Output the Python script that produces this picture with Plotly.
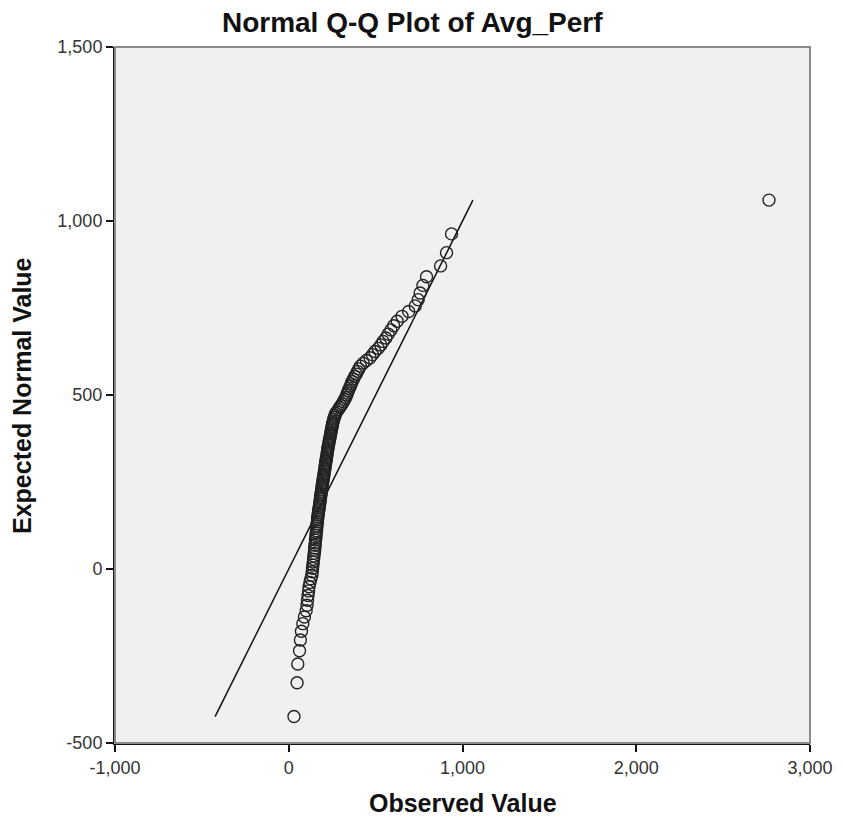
import plotly.graph_objects as go

# Observed Avg_Perf values (sorted) and their expected normal values
observed = [
    30, 48, 52, 62, 67, 73, 81, 90, 100, 105, 108, 111, 114, 117, 122, 127,
    133, 135, 137, 139, 141, 143, 145, 147, 149, 150, 151, 153, 154, 156,
    157, 158, 160, 161, 162, 163, 165, 166, 167, 169, 170, 172, 174, 175,
    177, 179, 180, 182, 183, 185, 186, 188, 190, 191, 192, 194, 195, 197,
    199, 200, 202, 203, 205, 207, 208, 210, 211, 213, 214, 216, 217, 219,
    221, 222, 224, 225, 227, 229, 231, 233, 235, 237, 239, 241, 243, 245,
    247, 249, 251, 253, 256, 259, 263, 266, 270, 277, 285, 293, 300, 308,
    315, 322, 328, 333, 338, 343, 348, 355, 360, 365, 372, 380, 388, 396,
    403, 412, 428, 447, 468, 482, 496, 515, 530, 543, 559, 572, 588, 604,
    624, 652, 690, 728, 745, 756, 772, 793, 874, 908, 937, 2764,
]
expected = [
    -424, -327, -273, -235, -204, -179, -157, -138, -120, -104, -90, -76,
    -63, -51, -39, -28, -18, -8, 2, 11, 20, 28, 37, 45, 53, 60, 68, 75, 83,
    90, 97, 104, 110, 117, 124, 130, 136, 143, 149, 155, 161, 167, 172, 178,
    184, 190, 195, 201, 206, 212, 217, 222, 228, 233, 238, 243, 248, 254,
    259, 264, 269, 274, 280, 285, 290, 295, 300, 305, 310, 315, 320, 325,
    331, 336, 341, 346, 351, 357, 362, 367, 372, 377, 383, 388, 393, 398,
    403, 409, 414, 419, 424, 430, 436, 441, 447, 452, 458, 464, 469, 475,
    481, 487, 493, 500, 506, 512, 519, 526, 532, 539, 546, 553, 560, 568,
    575, 583, 591, 599, 607, 616, 625, 634, 644, 654, 664, 675, 687, 699,
    712, 726, 740, 756, 774, 793, 815, 840, 871, 909, 963, 1060,
]

x_tick_vals = [-1000, 0, 1000, 2000, 3000]
x_tick_text = ["-1,000", "0", "1,000", "2,000", "3,000"]
y_tick_vals = [-500, 0, 500, 1000, 1500]
y_tick_text = ["-500", "0", "500", "1,000", "1,500"]

FONT = "Liberation Sans Narrow, Arial Narrow, Liberation Sans, sans-serif"

# reference line y = x spanning the expected values
line_ends = [min(expected), max(expected)]

fig = go.Figure()
fig.add_trace(go.Scatter(
    x=line_ends, y=line_ends, mode="lines",
    line=dict(color="#111111", width=1.5),
    hoverinfo="skip", showlegend=False,
))
fig.add_trace(go.Scatter(
    x=observed, y=expected, mode="markers",
    marker=dict(symbol="circle-open", size=12, color="#222222",
                line=dict(width=1.4, color="#222222")),
    showlegend=False,
))

# frame: grey top/right border
fig.add_shape(type="rect", xref="paper", yref="paper", x0=0, y0=0, x1=1, y1=1,
              line=dict(color="#8a8a8a", width=2), layer="above")

# axis titles placed as annotations
fig.add_annotation(text="<b>Observed Value</b>", xref="paper", yref="paper",
                   x=0.5, y=-60 / 696, xanchor="center", yanchor="middle",
                   showarrow=False, font=dict(size=25, color="#111111"))
fig.add_annotation(text="<b>Expected Normal Value</b>", xref="paper",
                   yref="paper", x=-93 / 695, y=0.5, xanchor="center",
                   yanchor="middle", textangle=-90, showarrow=False,
                   font=dict(size=25, color="#111111"))

axis_common = dict(
    showgrid=False, zeroline=False, showline=True, linecolor="#111111",
    linewidth=2, ticks="outside", ticklen=7, tickwidth=1.5,
    tickcolor="#111111", tickfont=dict(size=18, color="#333333"),
    automargin=False,
)

fig.update_layout(
    width=843, height=819,
    margin=dict(l=115, r=33, t=47, b=76),
    paper_bgcolor="white",
    plot_bgcolor="#f0f0f0",
    font=dict(family=FONT, color="#222222"),
    title=dict(text="<b>Normal Q-Q Plot of Avg_Perf</b>", xref="container",
               x=0.489, xanchor="center", y=0.973, yanchor="middle",
               font=dict(family=FONT, size=28, color="#111111")),
    xaxis=dict(range=[-1000, 3000], tickvals=x_tick_vals,
               ticktext=x_tick_text, **axis_common),
    yaxis=dict(range=[-500, 1500], tickvals=y_tick_vals,
               ticktext=y_tick_text, **axis_common),
)

fig.write_html("out.html")
